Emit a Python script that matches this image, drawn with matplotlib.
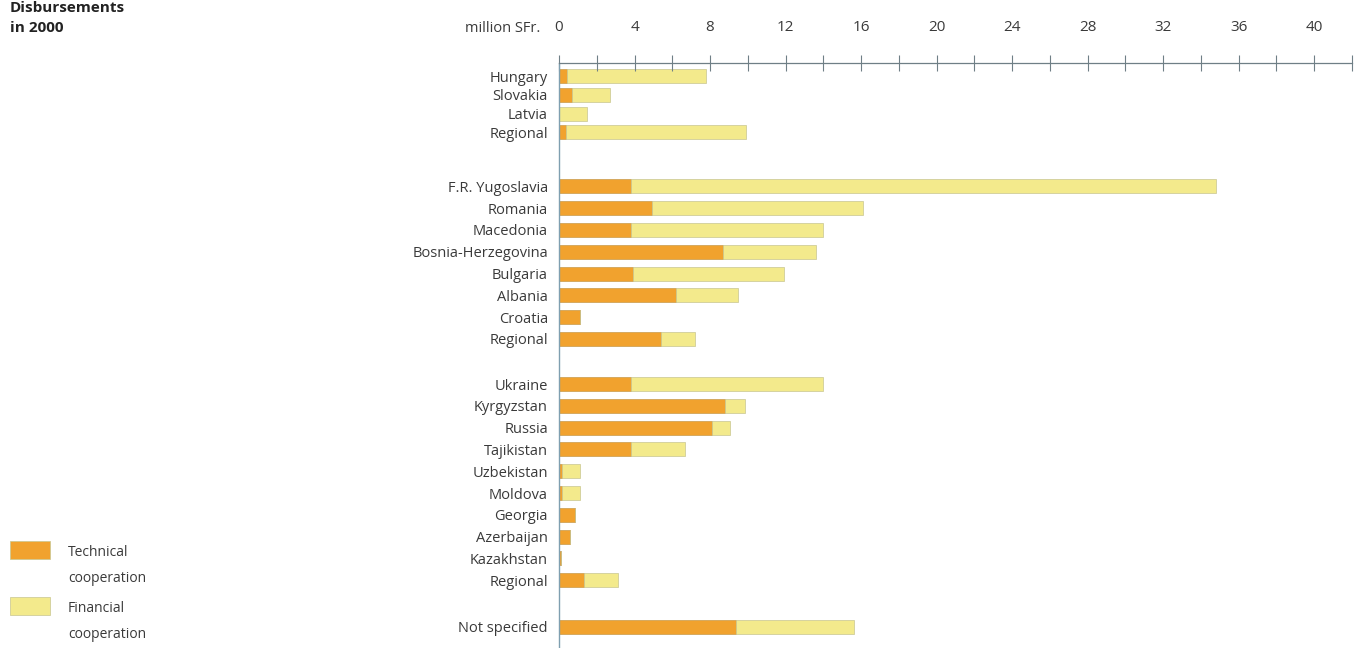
import matplotlib.pyplot as plt
from matplotlib.patches import Rectangle
from matplotlib.transforms import blended_transform_factory

plt.rcParams['font.family'] = ['Open Sans', 'DejaVu Sans']

# rows of the chart, top to bottom
countries = ['Hungary', 'Slovakia', 'Latvia', 'Regional',
             'F.R. Yugoslavia', 'Romania', 'Macedonia', 'Bosnia-Herzegovina',
             'Bulgaria', 'Albania', 'Croatia', 'Regional',
             'Ukraine', 'Kyrgyzstan', 'Russia', 'Tajikistan', 'Uzbekistan',
             'Moldova', 'Georgia', 'Azerbaijan', 'Kazakhstan', 'Regional',
             'Not specified']
group = [0, 0, 0, 0,
         1, 1, 1, 1, 1, 1, 1, 1,
         2, 2, 2, 2, 2, 2, 2, 2, 2, 2,
         3]
# million SFr.
technical = [0.4, 0.7, 0.0, 0.35,
             3.8, 4.9, 3.8, 8.7, 3.9, 6.2, 1.1, 5.4,
             3.8, 8.8, 8.1, 3.8, 0.15, 0.15, 0.85, 0.6, 0.1, 1.35,
             9.4]
financial = [7.4, 2.0, 1.5, 9.55,
             31.0, 11.2, 10.2, 4.9, 8.0, 3.3, 0.0, 1.8,
             10.2, 1.05, 0.95, 2.85, 0.95, 0.95, 0.0, 0.0, 0.0, 1.75,
             6.25]

orange = '#f1a22e'
yellow = '#f3ea8c'
text_col = '#3a3a3a'

# row positions: first group is a bit tighter, gaps between groups
pitch = [0.86, 1.0, 1.0, 1.0]
gap_before = [0, 2.48, 2.07, 2.13]
ypos = []
y = 0.0
for i, g in enumerate(group):
    if i > 0:
        if g != group[i - 1]:
            y += gap_before[g]
        else:
            y += pitch[g]
    ypos.append(y)

fig = plt.figure(figsize=(13.58, 6.48), dpi=100)
ax = fig.add_axes([559 / 1358, 0, (1352 - 559) / 1358, (648 - 63) / 648])

ax.barh(ypos, technical, height=0.64, color=orange, edgecolor='#c89a4a', linewidth=0.5)
ax.barh(ypos, financial, left=technical, height=0.64, color=yellow,
        edgecolor='#c8c690', linewidth=0.5)

ax.set_xlim(0, 42)
ax.set_ylim(26.24, -0.6)

for s in ['right', 'bottom']:
    ax.spines[s].set_visible(False)
ax.spines['top'].set_color('#6f7f86')
ax.spines['top'].set_linewidth(0.9)
ax.spines['left'].set_color('#7f9fb0')
ax.spines['left'].set_linewidth(1.0)

ax.xaxis.tick_top()
ax.set_xticks(range(0, 41, 4))
ax.set_xticklabels(['0'] + [str(v) for v in range(4, 41, 4)])
ax.set_xticks(range(2, 43, 4), minor=True)
ax.tick_params(axis='x', which='both', direction='inout', length=11, width=0.8,
               color='#6f7f86', pad=15, labelsize=11, labelcolor=text_col)

ax.set_yticks(ypos)
ax.set_yticklabels(countries)
ax.tick_params(axis='y', length=0, pad=8, labelsize=10.5, labelcolor=text_col)

trans = blended_transform_factory(ax.transData, fig.transFigure)
ax.text(-1.0, 1 - 28 / 648, 'million SFr.', transform=trans, ha='right', va='center',
        fontsize=10.5, color=text_col)

# title
fig.text(10 / 1358, 1 - 28 / 648, 'in 2000', ha='left', va='center', fontsize=11,
         fontweight='bold', color='#222222')
fig.text(10 / 1358, 1 - 8 / 648, 'Disbursements', ha='left', va='center', fontsize=11,
         fontweight='bold', color='#222222')

# legend
for yc, col, l1, l2 in [(550, orange, 'Technical', 'cooperation'),
                        (606, yellow, 'Financial', 'cooperation')]:
    fig.patches.append(Rectangle((10 / 1358, 1 - (yc + 9) / 648), 40 / 1358, 18 / 648,
                                 transform=fig.transFigure, facecolor=col,
                                 edgecolor='#c8c690', linewidth=0.5))
    fig.text(68 / 1358, 1 - (yc + 2) / 648, l1, ha='left', va='center', fontsize=10,
             color=text_col)
    fig.text(68 / 1358, 1 - (yc + 29) / 648, l2, ha='left', va='center', fontsize=10,
             color=text_col)

fig.savefig('out.png', dpi=100)
